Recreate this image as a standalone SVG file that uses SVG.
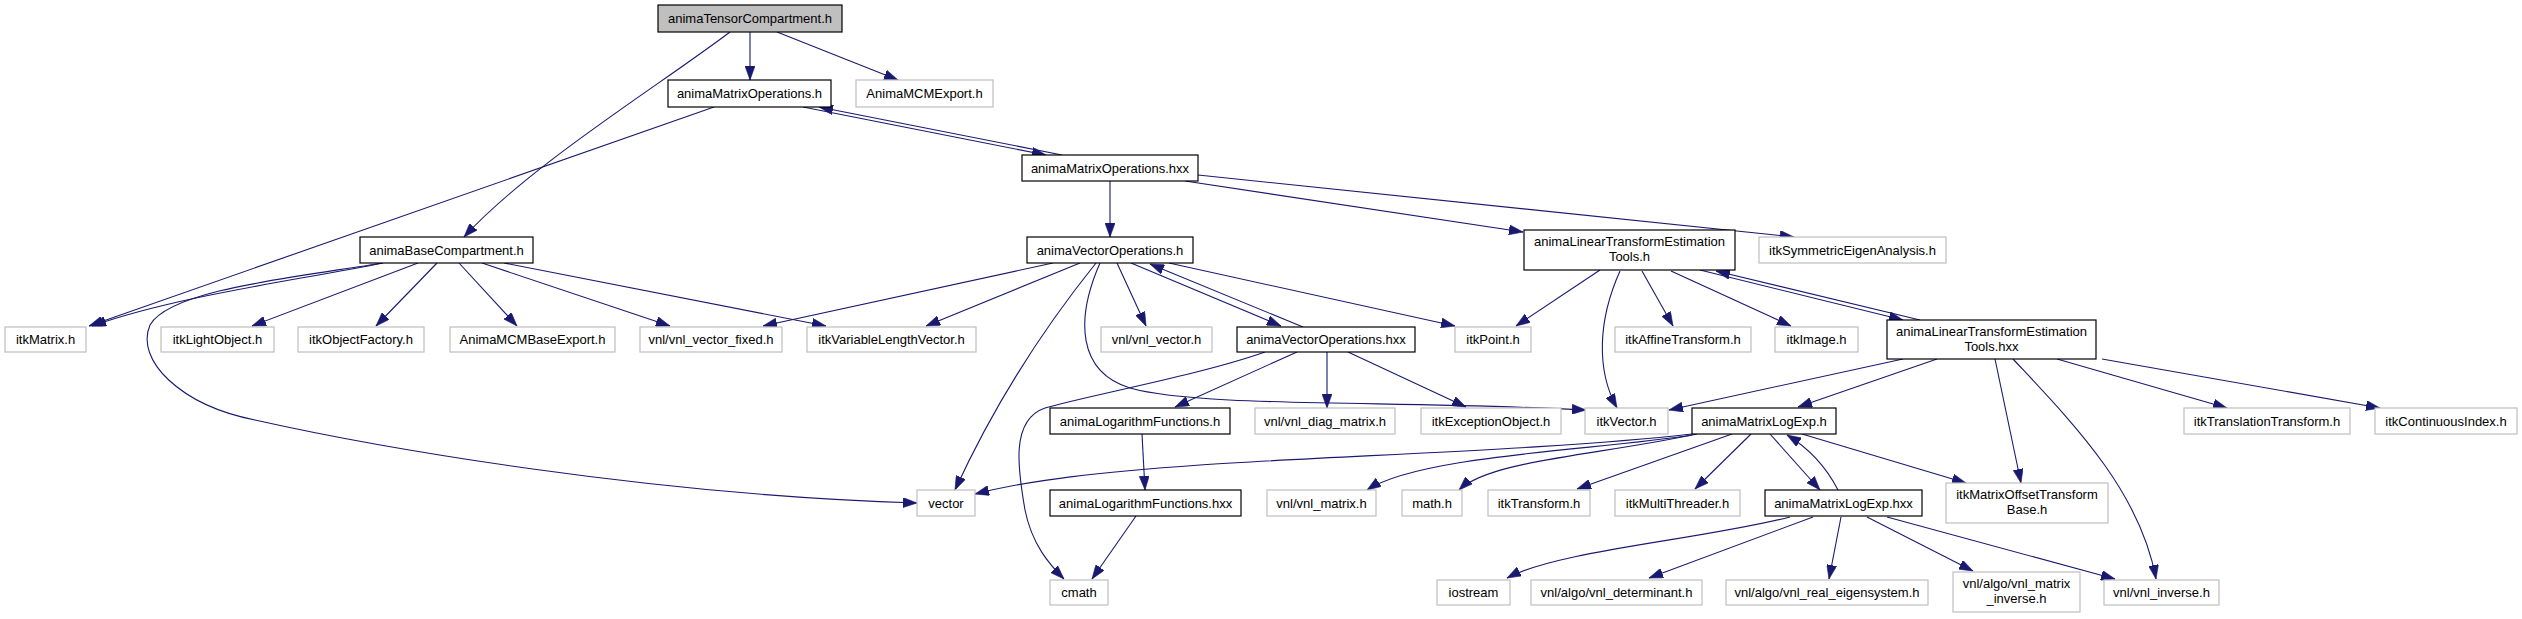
<svg xmlns="http://www.w3.org/2000/svg" width="2522" height="619" viewBox="0 0 2522 619">
<style>
.nb rect{fill:#fff;stroke:#000;stroke-width:1.2}
.ng rect{fill:#fff;stroke:#bfbfbf;stroke-width:1.2}
.nr rect{fill:#bfbfbf;stroke:#000;stroke-width:1.2}
text{font-family:"Liberation Sans",Arial,sans-serif;font-size:13px;text-anchor:middle;fill:#000}
#edges path{fill:none;stroke:#191970;stroke-width:1.1;marker-end:url(#ah)}
</style>
<defs>
<marker id="ah" viewBox="0 0 14 10" refX="14" refY="5" markerWidth="14" markerHeight="10" orient="auto" markerUnits="userSpaceOnUse">
<path d="M0,0L14,5L0,10z" fill="#191970" stroke="#191970" stroke-width="0.6"/>
</marker>
</defs>
<rect width="2522" height="619" fill="#fff"/>
<g id="edges">
<path d="M750,32L750,80"/>
<path d="M777,32L898,80"/>
<path d="M730,32C660,85 530,165 464,237"/>
<path d="M714,107L89,326"/>
<path d="M803,107L1046,155"/>
<path d="M1062,155L819,107"/>
<path d="M1110,181L1110,237"/>
<path d="M1185,181L1523,232"/>
<path d="M1198,175L1794,237"/>
<path d="M383,263C300,280 180,295 92,326"/>
<path d="M418,263L252,326"/>
<path d="M437,263L376,326"/>
<path d="M459,263L517,326"/>
<path d="M482,263L670,326"/>
<path d="M504,263L826,326"/>
<path d="M383,263C290,278 170,290 150,325C135,360 180,405 255,420C380,448 650,495 917,503"/>
<path d="M1053,263L763,326"/>
<path d="M1080,263L926,326"/>
<path d="M1096,263Q1010,370 955,490"/>
<path d="M1100,263C1075,320 1078,372 1130,388C1200,408 1400,400 1586,410"/>
<path d="M1117,263L1146,326"/>
<path d="M1131,263L1281,326"/>
<path d="M1303,327L1150,264"/>
<path d="M1169,263L1455,326"/>
<path d="M1265,352C1200,375 1090,395 1045,408C1010,420 1018,470 1025,510C1032,545 1050,565 1064,579"/>
<path d="M1297,352L1175,407"/>
<path d="M1327,352L1327,408"/>
<path d="M1348,352L1466,407"/>
<path d="M1600,270L1516,326"/>
<path d="M1620,271C1598,320 1596,370 1617,408"/>
<path d="M1642,271L1673,326"/>
<path d="M1671,271L1791,326"/>
<path d="M1700,270L1903,320"/>
<path d="M1920,320L1716,271"/>
<path d="M1903,359L1669,410"/>
<path d="M1937,359L1798,407"/>
<path d="M1995,359L2021,483"/>
<path d="M2013,359C2070,420 2140,490 2156,579"/>
<path d="M2057,359L2227,408"/>
<path d="M2102,359L2380,408"/>
<path d="M1142,434L1145,490"/>
<path d="M1136,516L1092,579"/>
<path d="M1692,434C1550,450 1350,455 1200,465C1100,472 1030,480 975,494"/>
<path d="M1692,435C1600,450 1420,455 1367,490"/>
<path d="M1697,434C1600,455 1490,460 1459,490"/>
<path d="M1732,434L1577,489"/>
<path d="M1751,434L1695,489"/>
<path d="M1770,434L1820,490"/>
<path d="M1838,490Q1820,455 1787,435"/>
<path d="M1802,434L1966,483"/>
<path d="M1790,517C1700,540 1560,550 1507,578"/>
<path d="M1813,517L1649,578"/>
<path d="M1841,517L1829,579"/>
<path d="M1867,517L1973,571"/>
<path d="M1887,517L2115,579"/>
</g>
<g id="n_tc" class="nr"><rect x="658" y="5" width="184" height="27"/><text x="750" y="23">animaTensorCompartment.h</text></g>
<g id="n_moh" class="nb"><rect x="668" y="80" width="163" height="27"/><text x="749.5" y="98">animaMatrixOperations.h</text></g>
<g id="n_mcmexp" class="ng"><rect x="856" y="80" width="137" height="27"/><text x="924.5" y="98">AnimaMCMExport.h</text></g>
<g id="n_mohxx" class="nb"><rect x="1022" y="155" width="176" height="26"/><text x="1110" y="172.5">animaMatrixOperations.hxx</text></g>
<g id="n_base" class="nb"><rect x="360" y="237" width="173" height="26"/><text x="446.5" y="254.5">animaBaseCompartment.h</text></g>
<g id="n_voh" class="nb"><rect x="1027" y="237" width="166" height="26"/><text x="1110" y="254.5">animaVectorOperations.h</text></g>
<g id="n_ltet" class="nb"><rect x="1524" y="230" width="211" height="40"/><text x="1629.5" y="246">animaLinearTransformEstimation</text><text x="1629.5" y="261">Tools.h</text></g>
<g id="n_symm" class="ng"><rect x="1759" y="237" width="187" height="26"/><text x="1852.5" y="254.5">itkSymmetricEigenAnalysis.h</text></g>
<g id="n_itkmatrix" class="ng"><rect x="5" y="327" width="81" height="25"/><text x="45.5" y="344">itkMatrix.h</text></g>
<g id="n_lightobj" class="ng"><rect x="161" y="327" width="113" height="25"/><text x="217.5" y="344">itkLightObject.h</text></g>
<g id="n_objfact" class="ng"><rect x="298" y="327" width="126" height="25"/><text x="361" y="344">itkObjectFactory.h</text></g>
<g id="n_mcmbase" class="ng"><rect x="450" y="327" width="165" height="25"/><text x="532.5" y="344">AnimaMCMBaseExport.h</text></g>
<g id="n_vecfixed" class="ng"><rect x="640" y="327" width="142" height="25"/><text x="711" y="344">vnl/vnl_vector_fixed.h</text></g>
<g id="n_varlen" class="ng"><rect x="807" y="327" width="169" height="25"/><text x="891.5" y="344">itkVariableLengthVector.h</text></g>
<g id="n_vnlvec" class="ng"><rect x="1101" y="327" width="111" height="25"/><text x="1156.5" y="344">vnl/vnl_vector.h</text></g>
<g id="n_vohxx" class="nb"><rect x="1237" y="327" width="178" height="25"/><text x="1326" y="344">animaVectorOperations.hxx</text></g>
<g id="n_point" class="ng"><rect x="1455" y="327" width="76" height="25"/><text x="1493" y="344">itkPoint.h</text></g>
<g id="n_affine" class="ng"><rect x="1615" y="327" width="136" height="25"/><text x="1683" y="344">itkAffineTransform.h</text></g>
<g id="n_image" class="ng"><rect x="1775" y="327" width="83" height="25"/><text x="1816.5" y="344">itkImage.h</text></g>
<g id="n_ltethxx" class="nb"><rect x="1887" y="320" width="209" height="39"/><text x="1991.5" y="335.5">animaLinearTransformEstimation</text><text x="1991.5" y="350.5">Tools.hxx</text></g>
<g id="n_logh" class="nb"><rect x="1050" y="408" width="180" height="26"/><text x="1140" y="425.5">animaLogarithmFunctions.h</text></g>
<g id="n_diag" class="ng"><rect x="1255" y="408" width="140" height="26"/><text x="1325" y="425.5">vnl/vnl_diag_matrix.h</text></g>
<g id="n_except" class="ng"><rect x="1421" y="408" width="140" height="26"/><text x="1491" y="425.5">itkExceptionObject.h</text></g>
<g id="n_itkvec" class="ng"><rect x="1585" y="408" width="83" height="26"/><text x="1626.5" y="425.5">itkVector.h</text></g>
<g id="n_mleh" class="nb"><rect x="1692" y="408" width="144" height="26"/><text x="1764" y="425.5">animaMatrixLogExp.h</text></g>
<g id="n_transl" class="ng"><rect x="2184" y="408" width="166" height="26"/><text x="2267" y="425.5">itkTranslationTransform.h</text></g>
<g id="n_contidx" class="ng"><rect x="2375" y="408" width="142" height="26"/><text x="2446" y="425.5">itkContinuousIndex.h</text></g>
<g id="n_vector" class="ng"><rect x="917" y="490" width="58" height="26"/><text x="946" y="507.5">vector</text></g>
<g id="n_loghxx" class="nb"><rect x="1050" y="490" width="191" height="26"/><text x="1145.5" y="507.5">animaLogarithmFunctions.hxx</text></g>
<g id="n_vnlmat" class="ng"><rect x="1267" y="490" width="109" height="26"/><text x="1321.5" y="507.5">vnl/vnl_matrix.h</text></g>
<g id="n_math" class="ng"><rect x="1402" y="490" width="60" height="26"/><text x="1432" y="507.5">math.h</text></g>
<g id="n_transform" class="ng"><rect x="1488" y="490" width="102" height="26"/><text x="1539" y="507.5">itkTransform.h</text></g>
<g id="n_multi" class="ng"><rect x="1615" y="490" width="125" height="26"/><text x="1677.5" y="507.5">itkMultiThreader.h</text></g>
<g id="n_mlehxx" class="nb"><rect x="1765" y="490" width="157" height="26"/><text x="1843.5" y="507.5">animaMatrixLogExp.hxx</text></g>
<g id="n_mot" class="ng"><rect x="1946" y="483" width="162" height="40"/><text x="2027" y="499">itkMatrixOffsetTransform</text><text x="2027" y="514">Base.h</text></g>
<g id="n_cmath" class="ng"><rect x="1050" y="580" width="58" height="25"/><text x="1079" y="597">cmath</text></g>
<g id="n_iostream" class="ng"><rect x="1437" y="580" width="73" height="25"/><text x="1473.5" y="597">iostream</text></g>
<g id="n_determ" class="ng"><rect x="1531" y="580" width="171" height="25"/><text x="1616.5" y="597">vnl/algo/vnl_determinant.h</text></g>
<g id="n_eigen" class="ng"><rect x="1726" y="580" width="202" height="25"/><text x="1827" y="597">vnl/algo/vnl_real_eigensystem.h</text></g>
<g id="n_matinv" class="ng"><rect x="1953" y="572" width="127" height="40"/><text x="2016.5" y="588">vnl/algo/vnl_matrix</text><text x="2016.5" y="603">_inverse.h</text></g>
<g id="n_inverse" class="ng"><rect x="2104" y="580" width="115" height="25"/><text x="2161.5" y="597">vnl/vnl_inverse.h</text></g>
</svg>
